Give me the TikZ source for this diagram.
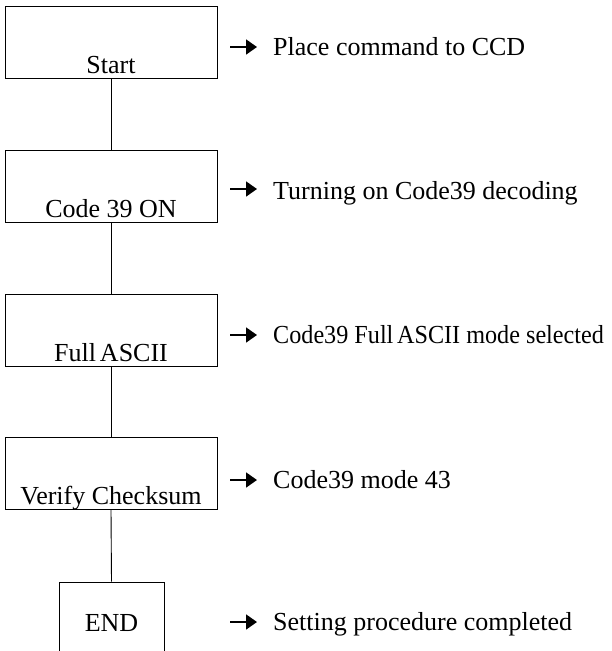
\documentclass[tikz,border=0pt]{standalone}
\usepackage{fontspec}
\usepackage{graphicx}
\setmainfont{Liberation Serif}
\usetikzlibrary{arrows.meta}
\begin{document}
\begin{tikzpicture}[x=1pt,y=-1pt,
  box/.style={draw,line width=0.9pt,minimum width=212pt,minimum height=72pt,inner sep=0pt},
  endbox/.style={draw,line width=0.9pt,minimum width=105pt,minimum height=72pt,inner sep=0pt},
  lbl/.style={anchor=base,inner sep=0pt,font=\fontsize{26}{30}\selectfont},
  desc/.style={anchor=base west,inner sep=0pt,font=\fontsize{26}{30}\selectfont},
  conn/.style={line width=0.9pt},
  arr/.style={line width=1.8pt,-{Triangle[length=11pt,width=15pt]}}]
\useasboundingbox (0,0) rectangle (611,651);
\begin{scope}
\clip (0,0) rectangle (611,651);
\node[box] (b1) at (111,42) {};
\node[box] (b2) at (111,186.5) {};
\node[box] (b3) at (111,330) {};
\node[box] (b4) at (111,473.5) {};
\node[endbox] (b5) at (111.5,618) {};
\end{scope}
\node[lbl] (t1) at (111,73) {Start};
\node[lbl] (t2) at (111,217) {Code 39 ON};
\node[lbl] (t3) at (111,361) {Full\hspace{4pt}ASCII};
\node[lbl] (t4) at (111,504) {Verify Checksum};
\node[lbl] (t5) at (111.5,631) {END};
\draw[conn] (b1.south) -- (b2.north);
\draw[conn] (b2.south) -- (b3.north);
\draw[conn] (b3.south) -- (b4.north);
\draw[conn] (b4.south) -- (b5.north);
\node[desc] (d1) at (273,55) {Place command to CCD};
\node[desc] (d2) at (273,199) {Turning on Code39 decoding};
\node[desc] (d3) at (273,343) {\scalebox{0.93}[1]{Code39 Full\hspace{4pt}ASCII mode selected}};
\node[desc] (d4) at (273,488) {Code39 mode 43};
\node[desc] (d5) at (273,630) {Setting procedure completed};
\coordinate (a1) at (230,47);
\coordinate (a2) at (230,189);
\coordinate (a3) at (230,335);
\coordinate (a4) at (230,480);
\coordinate (a5) at (230,622);
\foreach \i in {1,...,5}{\draw[arr] (a\i) -- ++(27,0);}
\end{tikzpicture}
\end{document}
